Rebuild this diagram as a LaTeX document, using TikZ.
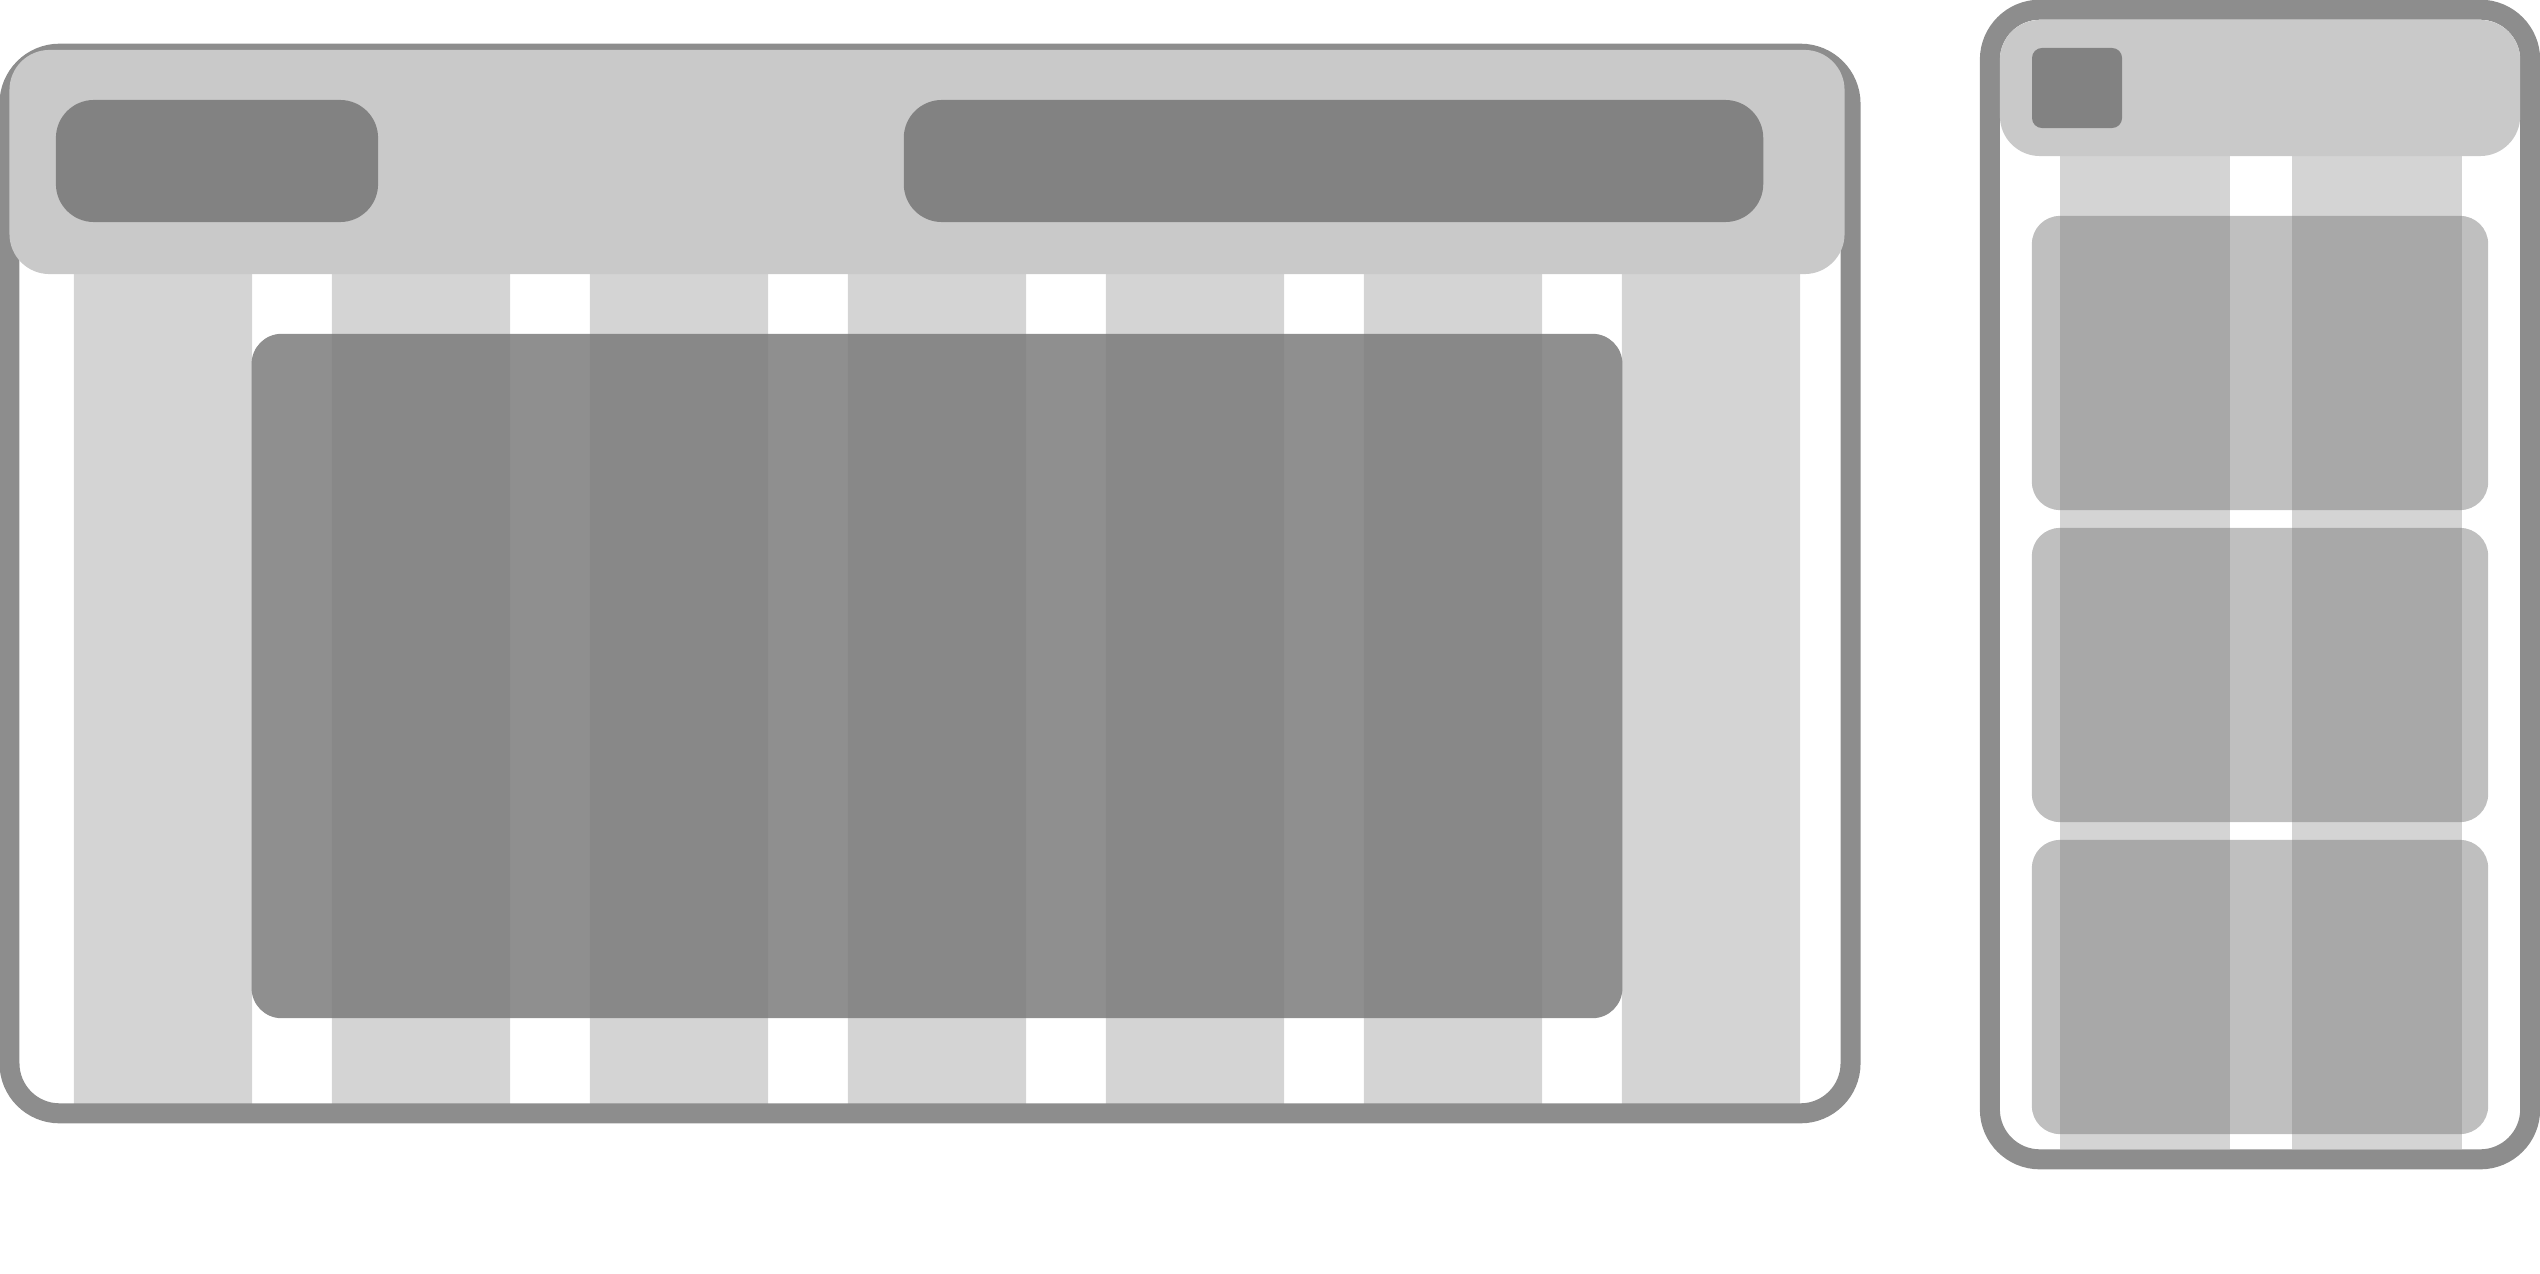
\documentclass[tikz,border=0pt]{standalone}
\usepackage{xcolor}
\usepackage{tikz}
\definecolor{wfframe}{HTML}{8D8D8D}
\definecolor{wfbar}{HTML}{C9C9C9}
\definecolor{wfbtn}{HTML}{828282}
\definecolor{wfcol}{HTML}{D4D4D4}
\definecolor{wfpanel}{HTML}{7A7A7A}
\definecolor{wfcard}{HTML}{7C7C7C}

\begin{document}
\begin{tikzpicture}[x=0.01cm, y=-0.01cm,
    framebox/.style={draw=wfframe, line width=0.2cm, rounded corners=0.5cm, inner sep=0pt, fill=none},
    barbox/.style={fill=wfbar, rounded corners=0.4cm, inner sep=0pt},
    btnbox/.style={fill=wfbtn, rounded corners=0.38cm, inner sep=0pt, minimum height=1.22cm},
    colbox/.style={fill=wfcol, rounded corners=0.12cm, inner sep=0pt},
    panelbox/.style={fill=wfpanel, fill opacity=0.84, rounded corners=0.3cm, inner sep=0pt},
    cardbox/.style={fill=wfcard, fill opacity=0.49, rounded corners=0.28cm, inner sep=0pt, minimum width=4.56cm, minimum height=2.94cm}]
  \useasboundingbox (0,0) rectangle (2540,1273);

  % wide screen
  \node[colbox, minimum width=1.78cm, minimum height=8.58cm] (dcol1) at (163,691) {};
  \node[colbox, minimum width=1.78cm, minimum height=8.58cm] (dcol2) at (421,691) {};
  \node[colbox, minimum width=1.78cm, minimum height=8.58cm] (dcol3) at (679,691) {};
  \node[colbox, minimum width=1.78cm, minimum height=8.58cm] (dcol4) at (937,691) {};
  \node[colbox, minimum width=1.78cm, minimum height=8.58cm] (dcol5) at (1195,691) {};
  \node[colbox, minimum width=1.78cm, minimum height=8.58cm] (dcol6) at (1453,691) {};
  \node[colbox, minimum width=1.78cm, minimum height=8.58cm] (dcol7) at (1711,691) {};
  \node[framebox, minimum width=18.4cm, minimum height=10.59cm] (desk) at (930,583.5) {};
  \node[barbox, minimum width=18.34cm, minimum height=2.24cm] (deskbar) at (927,162) {};
  \node[btnbox, minimum width=3.22cm] (deskbtnL) at (217,161) {};
  \node[btnbox, minimum width=8.59cm] (deskbtnR) at (1333.5,161) {};
  \node[panelbox, minimum width=13.7cm, minimum height=6.84cm] (deskpanel) at (937,676) {};

  % narrow screen
  \node[colbox, rounded corners=0pt, minimum width=1.7cm, minimum height=10.09cm] (pcol1) at (2145,644.5) {};
  \node[colbox, rounded corners=0pt, minimum width=1.7cm, minimum height=10.09cm] (pcol2) at (2377,644.5) {};
  \node[framebox, minimum width=5.4cm, minimum height=11.49cm] (phone) at (2260,584.5) {};
  \node[barbox, minimum width=5.2cm, minimum height=1.36cm] (phonebar) at (2260,88) {};
  \node[btnbox, rounded corners=0.1cm, minimum width=0.9cm, minimum height=0.8cm] (phonebtn) at (2077,88) {};
  \node[cardbox] (pcard1) at (2260,363) {};
  \node[cardbox] (pcard2) at (2260,675) {};
  \node[cardbox] (pcard3) at (2260,987) {};
\end{tikzpicture}
\end{document}
